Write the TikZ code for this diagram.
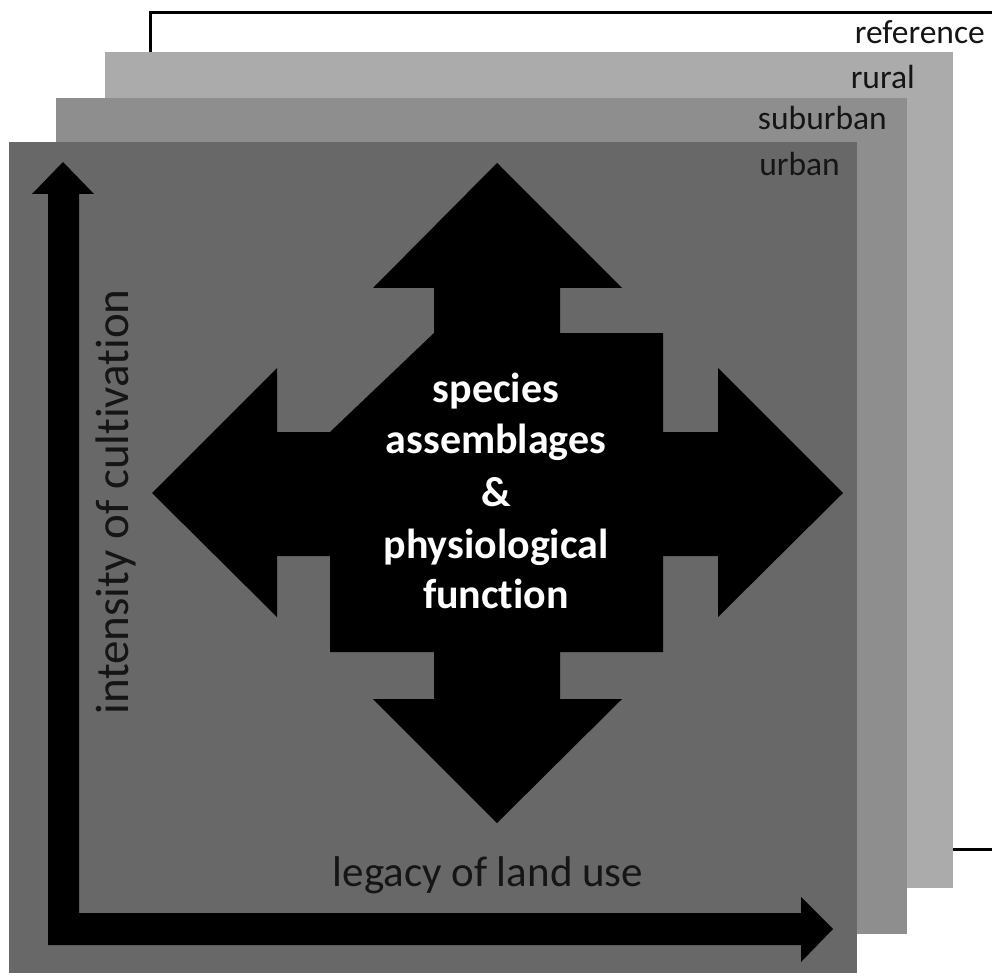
\documentclass[tikz,border=0pt]{standalone}
\usepackage{fontspec}
\setmainfont{Carlito}[Ligatures={NoCommon,NoRare,NoDiscretionary}]
\definecolor{urbancol}{HTML}{686868}
\definecolor{suburbcol}{HTML}{8E8E8E}
\definecolor{ruralcol}{HTML}{ABABAB}
\definecolor{textdark}{HTML}{151515}
\tikzset{
  layerlabel/.style={anchor=base east, inner sep=0pt, text=textdark, font=\fontsize{33.5}{40}\selectfont},
  centertext/.style={anchor=base, inner sep=0pt, text=white, font=\bfseries\fontsize{42}{50}\selectfont},
  axislabel/.style={anchor=base, inner sep=0pt, text=textdark}
}
\begin{document}
\begin{tikzpicture}[x=1pt,y=-1pt]
\useasboundingbox (0,0) rectangle (992,973);
\clip (0,0) rectangle (992,973);
% reference layer
\draw[line width=3pt, fill=white] (150,13) rectangle (1010,849);
% rural layer
\fill[ruralcol] (105,52) rectangle (953,888);
% suburban layer
\fill[suburbcol] (56,98) rectangle (907,934);
% urban layer
\fill[urbancol] (9,142) rectangle (857,990);
% layer labels
\node[layerlabel] (lref) at (985,44) {reference};
\node[layerlabel] (lrur) at (915,89) {rural};
\node[layerlabel] (lsub) at (887,130) {suburban};
\node[layerlabel] (lurb) at (840,176) {urban};
% axes arrow
\fill[black] (48,945) -- (48,194) -- (32,194) -- (63,162) -- (94,194) -- (79,194) -- (79,913)
  -- (801,913) -- (801,897) -- (833,929) -- (801,962) -- (801,945) -- cycle;
% central cross arrow
\fill[black] (434,333) -- (434,288) -- (373,288) -- (497,163) -- (622,288) -- (560,288) -- (560,333)
  -- (663,333) -- (663,432) -- (718,432) -- (718,368) -- (843,493) -- (718,617) -- (718,556) -- (663,556)
  -- (663,652) -- (560,652) -- (560,699) -- (622,699) -- (497,823) -- (373,699) -- (434,699) -- (434,652)
  -- (330,652) -- (330,556) -- (277,556) -- (277,617) -- (152,493) -- (277,368) -- (277,432) -- (330,432) -- cycle;
% central text
\node[centertext] (t1) at (496,402) {species};
\node[centertext] (t2) at (496,453) {assemblages};
\node[centertext] (t3) at (496,506) {\&};
\node[centertext] (t4) at (496,558) {physiological};
\node[centertext] (t5) at (496,608) {function};
% axis labels
\node[axislabel, rotate=90, font=\fontsize{47}{56}\selectfont] (ylab) at (128,502) {intensity of cultivation};
\node[axislabel, font=\fontsize{43}{52}\selectfont] (xlab) at (488,886) {legacy of land use};
\end{tikzpicture}
\end{document}
